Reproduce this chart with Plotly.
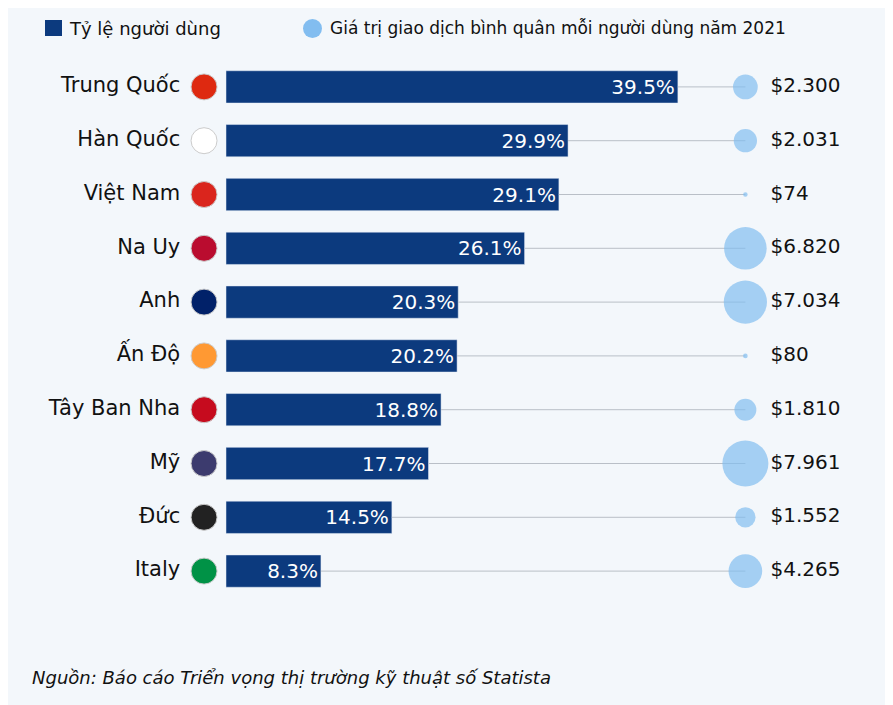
import plotly.graph_objects as go
import math

countries = ["Trung Quốc", "Hàn Quốc", "Việt Nam", "Na Uy", "Anh", "Ấn Độ", "Tây Ban Nha", "Mỹ", "Đức", "Italy"]
share = [39.5, 29.9, 29.1, 26.1, 20.3, 20.2, 18.8, 17.7, 14.5, 8.3]
value = [2300, 2031, 74, 6820, 7034, 80, 1810, 7961, 1552, 4265]
value_labels = ["$2.300", "$2.031", "$74", "$6.820", "$7.034", "$80", "$1.810", "$7.961", "$1.552", "$4.265"]
flag_colors = ["#de2910", "#ffffff", "#da251d", "#ba0c2f", "#012169", "#ff9933", "#c60b1e", "#3c3b6e", "#222222", "#009246"]

NAVY = "#0c3a7e"
LIGHT = "#82bdf0"
BG = "#f3f7fb"
FONT = "DejaVu Sans"
BUB_X = 45.4
ys = list(range(len(countries)))
OFF = 8
T, B = 52, 115
PH = 705 - T - B

def px(x):
    return (x - OFF) / 893

def py(y):
    return 1 - (y - OFF - T) / PH

fig = go.Figure()
for y, s in zip(ys, share):
    fig.add_trace(go.Scatter(x=[s, BUB_X], y=[y, y], mode="lines",
                             line=dict(color="#b9bfc7", width=1), hoverinfo="skip", showlegend=False))
fig.add_trace(go.Bar(x=share, y=ys, orientation="h", width=0.6, marker_color=NAVY,
                     text=[f"{s}%" for s in share], textposition="inside", insidetextanchor="end",
                     textfont=dict(color="white", size=20, family=FONT), showlegend=False))
fig.add_trace(go.Scatter(x=[BUB_X]*len(ys), y=ys, mode="markers",
                         marker=dict(color=LIGHT, size=[46*math.sqrt(v/7961) for v in value], line=dict(width=0)),
                         showlegend=False))
fig.add_trace(go.Scatter(x=[47.6]*len(ys), y=ys, mode="text", text=value_labels, textposition="middle right",
                         textfont=dict(size=20, family=FONT, color="#111111"), showlegend=False))
fig.add_trace(go.Scatter(x=[-1.92]*len(ys), y=ys, mode="markers",
                         marker=dict(color=flag_colors, size=26, line=dict(color="#cccccc", width=1)),
                         showlegend=False))
fig.add_trace(go.Scatter(x=[-4.0]*len(ys), y=ys, mode="text", text=countries, textposition="middle left",
                         textfont=dict(size=21, family=FONT, color="#111111"), showlegend=False))

fig.add_shape(type="rect", xref="paper", yref="paper", x0=px(45), x1=px(62),
              y0=py(36), y1=py(20), fillcolor=NAVY, line_width=0)
fig.add_shape(type="circle", xref="paper", yref="paper", x0=px(303), x1=px(322),
              y0=py(38), y1=py(19), fillcolor=LIGHT, line_width=0)
fig.add_annotation(xref="paper", yref="paper", x=px(67), y=py(28), xanchor="left", yanchor="middle",
                   text="Tỷ lệ người dùng", showarrow=False, font=dict(size=18, family=FONT, color="#111"))
fig.add_annotation(xref="paper", yref="paper", x=px(328), y=py(28), xanchor="left", yanchor="middle",
                   text="Giá trị giao dịch bình quân mỗi người dùng năm 2021", showarrow=False,
                   font=dict(size=17, family=FONT, color="#111"))
fig.add_annotation(xref="paper", yref="paper", x=px(30), y=py(677), xanchor="left", yanchor="middle",
                   text="<i>Nguồn: Báo cáo Triển vọng thị trường kỹ thuật số Statista</i>", showarrow=False,
                   font=dict(size=18, family=FONT, color="#111"))

fig.update_layout(width=893, height=705, paper_bgcolor=BG, plot_bgcolor=BG,
                  margin=dict(l=0, r=0, t=T, b=B), bargap=0.4,
                  xaxis=dict(range=[-218/11.44, 675/11.44], visible=False, fixedrange=True),
                  yaxis=dict(range=[9.5, -0.5], visible=False, fixedrange=True))
fig.write_html("out.html")
